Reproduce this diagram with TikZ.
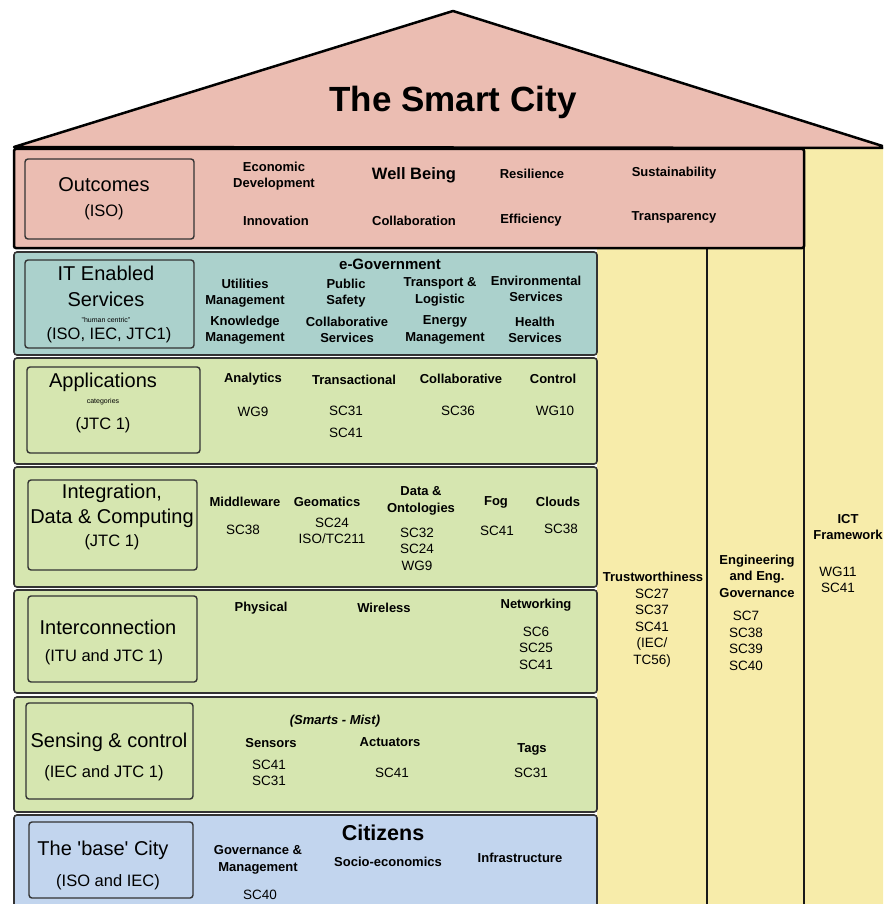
\documentclass[tikz,border=0pt]{standalone}
\usepackage{fontspec}
\setmainfont{Liberation Sans}
\newfontfamily\rawfont{Liberation Sans}
\definecolor{pinkc}{HTML}{EBBDB2}
\definecolor{tealc}{HTML}{ABD1CC}
\definecolor{greenc}{HTML}{D6E6B0}
\definecolor{bluec}{HTML}{C2D5EE}
\definecolor{yelc}{HTML}{F7ECAA}
\definecolor{edgec}{HTML}{333333}
\begin{document}
\begin{tikzpicture}[x=1pt,y=-1pt,
  band/.style={draw=edgec, line width=1.6pt, rounded corners=3pt},
  lbox/.style={draw=edgec, line width=1.4pt, rounded corners=3pt, inner sep=0pt},
  itm/.style={font=\bfseries\fontsize{13}{16.5}\selectfont, align=center, inner sep=0pt},
  sc/.style={font=\fontsize{13.5}{16.5}\selectfont, align=center, inner sep=0pt},
  ttl/.style={font=\fontsize{20}{24.5}\selectfont, align=center, inner sep=0pt},
  sub/.style={font=\fontsize{16.5}{20}\selectfont, align=center, inner sep=0pt},
  colline/.style={draw=black!90, line width=2pt}]
\useasboundingbox (0,0) rectangle (883,904);
\clip (0,0) rectangle (883,904);
% columns
\fill[yelc] (597,248) rectangle (707,910);
\fill[yelc] (707,248) rectangle (804,910);
\fill[yelc] (804,149) rectangle (900,910);
\draw[colline] (707,248) -- (707,910);
\draw[colline] (804,149) -- (804,910);
% roof
\draw[fill=pinkc, line width=2.5pt, line join=round] (14,147) -- (453,11) -- (892,149) -- (892,148) -- cycle;
\draw[line width=2.5pt] (14,148) -- (892,148);
% bands
\draw[fill=pinkc, draw=black, line width=2.5pt, rounded corners=2pt] (14,149) rectangle (804,248);
\draw[band, fill=tealc] (14,252) rectangle (597,355);
\draw[band, fill=greenc] (14,358) rectangle (597,464);
\draw[band, fill=greenc] (14,467) rectangle (597,587);
\draw[band, fill=greenc] (14,590) rectangle (597,693);
\draw[band, fill=greenc] (14,697) rectangle (597,812);
\draw[band, fill=bluec] (14,815) rectangle (597,930);
% title
\node[font=\bfseries\fontsize{35}{40}\selectfont, inner sep=0pt] (title) at (453,102) {The Smart City};
% Outcomes
\node[lbox, minimum width=169pt, minimum height=80pt] (outbox) at (109.5,199) {};
\node[ttl] (outt) at (104,185) {Outcomes};
\node[sub] (outs) at (104,212) {(ISO)};
\node[itm] (o1) at (274,176) {Economic\\Development};
\node[itm, font=\bfseries\fontsize{16.5}{20}\selectfont] (o2) at (414,175) {Well Being};
\node[itm] (o3) at (532,174) {Resilience};
\node[itm] (o4) at (674,173) {Sustainability};
\node[itm] (o5) at (276,221) {Innovation};
\node[itm] (o6) at (414,221) {Collaboration};
\node[itm] (o7) at (531,220) {Efficiency};
\node[itm] (o8) at (674,217) {Transparency};
% IT enabled services
\node[lbox, minimum width=169pt, minimum height=88pt] (itbox) at (109.5,304) {};
\node[ttl] (itt1) at (106,273) {IT Enabled};
\node[ttl] (itt2) at (106,299) {Services};
\node[font=\fontsize{7}{8}\selectfont, inner sep=0pt] (ith) at (106,320) {"human centric"};
\node[sub] (its) at (109,335) {(ISO, IEC, JTC1)};
\node[itm, font=\bfseries\fontsize{15}{18}\selectfont] (egov) at (390,264) {e-Government};
\node[itm] (i1) at (245,293) {Utilities\\Management};
\node[itm] (i2) at (346,293) {Public\\Safety};
\node[itm] (i3) at (440,292) {Transport \&\\Logistic};
\node[itm] (i4) at (536,289) {Environmental\\Services};
\node[itm] (i5) at (245,330) {Knowledge\\Management};
\node[itm] (i6) at (347,330) {Collaborative\\Services};
\node[itm] (i7) at (445,330) {Energy\\Management};
\node[itm] (i8) at (535,330) {Health\\Services};
% Applications
\node[lbox, minimum width=173pt, minimum height=86pt] (apbox) at (113.5,410) {};
\node[ttl] (apt) at (103,382) {Applications};
\node[font=\fontsize{7}{8}\selectfont, inner sep=0pt] (apc) at (103,402) {categories};
\node[sub] (aps) at (103,425) {(JTC 1)};
\node[itm] (a1) at (253,379) {Analytics};
\node[itm] (a2) at (354,380) {Transactional};
\node[itm] (a3) at (461,379) {Collaborative};
\node[itm] (a4) at (553,379) {Control};
\node[sc] (a5) at (253,412) {WG9};
\node[sc] (a6) at (346,411) {SC31};
\node[sc] (a6b) at (346,433) {SC41};
\node[sc] (a7) at (458,411) {SC36};
\node[sc] (a8) at (555,411) {WG10};
% Integration
\node[lbox, minimum width=169pt, minimum height=90pt] (inbox) at (112.5,525) {};
\node[ttl] (int1) at (112,493) {Integration,};
\node[ttl] (int2) at (112,518) {Data \& Computing};
\node[sub] (ins) at (112,542) {(JTC 1)};
\node[itm] (d1) at (245,502) {Middleware};
\node[itm] (d2) at (327,502) {Geomatics};
\node[itm] (d3) at (421,501) {Data \&\\Ontologies};
\node[itm] (d4) at (496,502) {Fog};
\node[itm] (d5) at (558,502) {Clouds};
\node[sc] (d6) at (243,530) {SC38};
\node[sc] (d7) at (332,531) {SC24\\ISO/TC211};
\node[sc] (d8) at (417,549) {SC32\\SC24\\WG9};
\node[sc] (d9) at (497,531) {SC41};
\node[sc] (d10) at (561,529) {SC38};
% Interconnection
\node[lbox, minimum width=169pt, minimum height=86pt] (icbox) at (112.5,639) {};
\node[ttl] (ict) at (108,627) {Interconnection};
\node[sub] (ics) at (104,657) {(ITU and JTC 1)};
\node[itm] (n1) at (261,608) {Physical};
\node[itm] (n2) at (384,608) {Wireless};
\node[itm] (n3) at (536,605) {Networking};
\node[sc] (n4) at (536,648) {SC6\\SC25\\SC41};
% Sensing
\node[lbox, minimum width=167pt, minimum height=96pt] (sebox) at (109.5,751) {};
\node[ttl] (set) at (109,742) {Sensing \& control};
\node[sub] (ses) at (104,773) {(IEC and JTC 1)};
\node[itm, font=\bfseries\itshape\fontsize{13}{16}\selectfont] (sm) at (335,721) {(Smarts - Mist)};
\node[itm] (s1) at (271,743) {Sensors};
\node[itm] (s2) at (390,742) {Actuators};
\node[itm] (s3) at (532,749) {Tags};
\node[sc] (s4) at (269,773) {SC41\\SC31};
\node[sc] (s5) at (392,773) {SC41};
\node[sc] (s6) at (531,773) {SC31};
% base city
\node[lbox, minimum width=164pt, minimum height=76pt] (bcbox) at (111,860) {};
\node[ttl, font=\rawfont\fontsize{20}{24.5}\selectfont] (bct) at (103,850) {The 'base' City};
\node[sub] (bcs) at (108,882) {(ISO and IEC)};
\node[itm, font=\bfseries\fontsize{21.5}{25}\selectfont] (cit) at (383,833) {Citizens};
\node[itm] (b1) at (258,860) {Governance \&\\Management};
\node[itm] (b2) at (388,862) {Socio-economics};
\node[itm] (b3) at (520,858) {Infrastructure};
\node[sc] (b4) at (260,895) {SC40};
% right columns
\node[itm] (tw) at (653,577) {Trustworthiness};
\node[sc] (tw2) at (652,628) {SC27\\SC37\\SC41\\(IEC/\\TC56)};
\node[itm] (eg) at (757,576) {Engineering\\and Eng.\\Governance};
\node[sc] (eg2) at (746,641) {SC7\\SC38\\SC39\\SC40};
\node[itm] (ictf) at (848,527) {ICT\\Framework};
\node[sc] (ictf2) at (838,580) {WG11\\SC41};
\end{tikzpicture}
\end{document}
